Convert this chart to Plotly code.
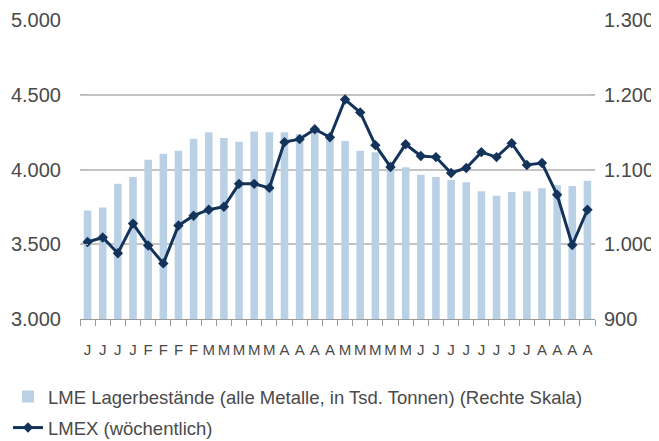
import plotly.graph_objects as go

# Week labels (month initials)
week_labels = ["J", "J", "J", "J", "F", "F", "F", "F", "M", "M", "M", "M", "M",
               "A", "A", "A", "A", "M", "M", "M", "M", "M",
               "J", "J", "J", "J", "J", "J", "J", "J", "A", "A", "A", "A"]

# LME stocks (all metals, thousand tonnes) - right scale
lme_stocks = [1045, 1049, 1081, 1090, 1113, 1121, 1125, 1141, 1150, 1142, 1137, 1151,
              1150, 1150, 1147, 1151, 1143, 1138, 1125, 1123, 1109, 1103, 1093, 1090,
              1086, 1083, 1071, 1065, 1070, 1071, 1075, 1079, 1078, 1085]

# LMEX weekly - left scale
lmex = [3515, 3545, 3440, 3638, 3492, 3372, 3625, 3691, 3731, 3751, 3904, 3904,
        3877, 4183, 4203, 4269, 4216, 4468, 4382, 4163, 4017, 4169, 4090, 4083,
        3977, 4010, 4116, 4083, 4176, 4030, 4043, 3831, 3495, 3731]

left_ticks = [3000, 3500, 4000, 4500, 5000]
right_ticks = [900, 1000, 1100, 1200, 1300]

x = list(range(len(week_labels)))
font_family = "Liberation Sans, Arial, sans-serif"
text_color = "#4a4a4a"

fig = go.Figure()
fig.add_trace(go.Bar(
    x=x, y=lme_stocks, yaxis="y",
    name="LME Lagerbestände (alle Metalle, in Tsd. Tonnen) (Rechte Skala)",
    marker=dict(color="#bad1e5", line=dict(width=0)),
    width=0.5, legendgroup="a",
))
fig.add_trace(go.Scatter(
    x=x, y=lmex, yaxis="y2", mode="lines+markers",
    name="LMEX (wöchentlich)",
    line=dict(color="#14335a", width=3),
    marker=dict(symbol="diamond", size=8, color="#14335a"),
    legendgroup="b",
))

fig.update_layout(
    width=659, height=441,
    margin=dict(l=72, r=72, t=12, b=130, autoexpand=False),
    paper_bgcolor="white", plot_bgcolor="white",
    separators=",.",
    font=dict(family=font_family, color=text_color, size=18),
    showlegend=True,
    legend=dict(
        orientation="v", xref="container", yref="container",
        x=0.0, y=0.161, xanchor="left", yanchor="top",
        font=dict(size=18.5, color=text_color), traceorder="grouped",
        tracegroupgap=4, itemwidth=30, bgcolor="rgba(0,0,0,0)",
    ),
    xaxis=dict(
        type="category", tickmode="array", tickvals=x, ticktext=week_labels,
        tickson="boundaries", ticks="outside", ticklen=6, tickcolor="#999999",
        showline=True, linecolor="#999999", linewidth=1, tickangle=0,
        ticklabelstandoff=17, ticklabeloverflow="allow",
        showgrid=False, range=[-0.5, len(x) - 0.5], automargin=False,
        tickfont=dict(size=15, color=text_color),
    ),
    yaxis=dict(
        side="right", range=[900, 1300], tickvals=right_ticks,
        tickformat=",d", showgrid=True, gridcolor="#c4c4c4", gridwidth=1.5,
        ticks="inside", ticklen=6, tickcolor="#bbbbbb", ticklabelstandoff=8,
        ticklabeloverflow="allow",
        showline=False, zeroline=False, automargin=False,
        tickfont=dict(size=20, color=text_color),
    ),
    yaxis2=dict(
        side="left", overlaying="y", range=[3000, 5000], tickvals=left_ticks,
        tickformat=",d", showgrid=False, zeroline=False, showline=False,
        ticks="inside", ticklen=8, tickcolor="#bbbbbb", automargin=False,
        ticklabelstandoff=18, ticklabeloverflow="allow",
        tickfont=dict(size=20, color=text_color),
    ),
    bargap=0.5,
)

fig.write_html("out.html")
